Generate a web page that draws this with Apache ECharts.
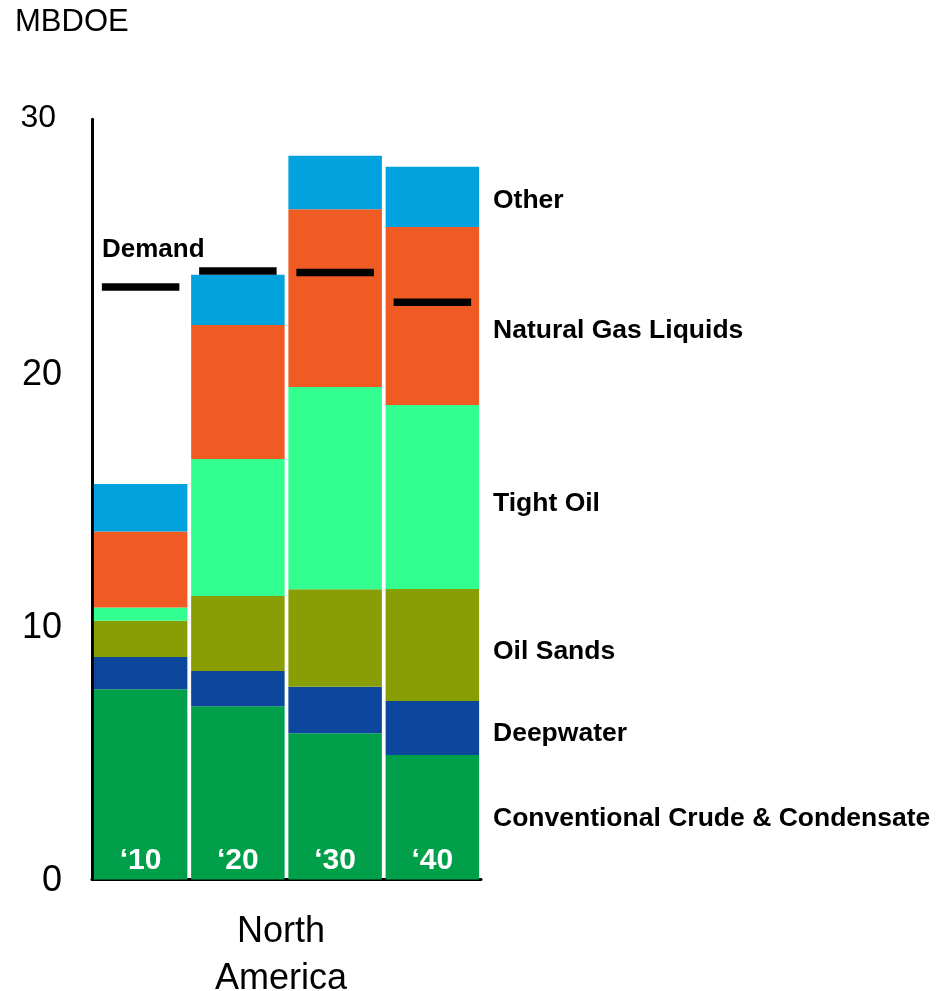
<!DOCTYPE html>
<html>
<head>
<meta charset="utf-8">
<script src="https://cdn.jsdelivr.net/npm/echarts@6/dist/echarts.min.js"></script>
<style>
  html, body { margin: 0; padding: 0; background: #ffffff; }
  #chart { width: 936px; height: 991px; }
</style>
</head>
<body>
<div id="chart"></div>
<script>
// ---- data ----
var categories = ['\u201810', '\u201820', '\u201830', '\u201840'];
var conventional = [7.51, 6.84, 5.77, 4.91];
var deepwater = [1.27, 1.39, 1.84, 2.13];
var oilSands = [1.43, 2.96, 3.84, 4.42];
var tightOil = [0.52, 5.40, 7.99, 7.27];
var ngl = [3.00, 5.29, 7.01, 7.02];
var other = [1.88, 1.99, 2.11, 2.38];
var demand = [23.38, 24.01, 23.95, 22.78];
var yTicks = [0, 10, 20, 30];

var FONT = '"Liberation Sans", Arial, Helvetica, sans-serif';

var chart = echarts.init(document.getElementById('chart'), null, { renderer: 'canvas' });

function barSeries(name, data, color, extra) {
  var s = {
    name: name,
    type: 'bar',
    stack: 'supply',
    data: data,
    barWidth: 93.5,
    itemStyle: { color: color, opacity: 1 },
    emphasis: { disabled: true },
    animation: false
  };
  if (extra) { for (var k in extra) s[k] = extra[k]; }
  return s;
}

var option = {
  animation: false,
  backgroundColor: '#ffffff',
  grid: { left: 92, top: 119.3, width: 389, bottom: 111.5, containLabel: false },
  xAxis: {
    type: 'category',
    data: categories,
    axisLine: { show: true, lineStyle: { color: '#000000', width: 3 } },
    axisTick: { show: false },
    axisLabel: { show: false },
    splitLine: { show: false }
  },
  yAxis: {
    type: 'value',
    min: 0,
    max: 30,
    interval: 10,
    axisLine: { show: true, lineStyle: { color: '#000000', width: 3 } },
    axisTick: { show: false },
    splitLine: { show: false },
    axisLabel: {
      margin: 30,
      align: 'right',
      formatter: function (v) {
        return v === yTicks[3] ? '{s|' + v + '}' : '{b|' + v + '}';
      },
      rich: {
        b: { fontFamily: FONT, fontSize: 36, color: '#000000', padding: [4, 0, 0, 0] },
        s: { fontFamily: FONT, fontSize: 32, color: '#000000', padding: [0, 6, 2, 0] }
      }
    }
  },
  series: [
    barSeries('Conventional Crude & Condensate', conventional, '#00A04B', {
      label: {
        show: true,
        position: 'insideBottom',
        distance: 4,
        formatter: '{b}',
        color: '#ffffff',
        fontFamily: FONT,
        fontWeight: 'bold',
        fontSize: 30
      }
    }),
    barSeries('Deepwater', deepwater, '#0D479D'),
    barSeries('Oil Sands', oilSands, '#889E04'),
    barSeries('Tight Oil', tightOil, '#33FF90'),
    barSeries('Natural Gas Liquids', ngl, '#F05A23'),
    barSeries('Other', other, '#02A2DF'),
    {
      name: 'Demand',
      type: 'scatter',
      data: demand,
      symbol: 'rect',
      symbolSize: [77.5, 7.5],
      itemStyle: { color: '#000000', opacity: 1 },
      z: 10,
      emphasis: { disabled: true },
      animation: false
    }
  ],
  graphic: [
    { type: 'text', left: 15, top: 7, style: { text: 'MBDOE', font: '31px ' + FONT, fill: '#000' } },
    { type: 'text', x: 102, y: 250, style: { text: 'Demand', font: 'bold 26px ' + FONT, fill: '#000', verticalAlign: 'middle' } },
    { type: 'text', x: 493, y: 201, style: { text: 'Other', font: 'bold 26.5px ' + FONT, fill: '#000', verticalAlign: 'middle' } },
    { type: 'text', x: 493, y: 331, style: { text: 'Natural Gas Liquids', font: 'bold 26.5px ' + FONT, fill: '#000', verticalAlign: 'middle' } },
    { type: 'text', x: 493, y: 504, style: { text: 'Tight Oil', font: 'bold 26.5px ' + FONT, fill: '#000', verticalAlign: 'middle' } },
    { type: 'text', x: 493, y: 652, style: { text: 'Oil Sands', font: 'bold 26.5px ' + FONT, fill: '#000', verticalAlign: 'middle' } },
    { type: 'text', x: 493, y: 734, style: { text: 'Deepwater', font: 'bold 26.5px ' + FONT, fill: '#000', verticalAlign: 'middle' } },
    { type: 'text', x: 493, y: 819, style: { text: 'Conventional Crude & Condensate', font: 'bold 26.5px ' + FONT, fill: '#000', verticalAlign: 'middle' } },
    { type: 'text', x: 281, y: 932, style: { text: 'North', font: '36px ' + FONT, fill: '#000', align: 'center', verticalAlign: 'middle' } },
    { type: 'text', x: 281, y: 979, style: { text: 'America', font: '36px ' + FONT, fill: '#000', align: 'center', verticalAlign: 'middle' } }
  ]
};

chart.setOption(option);
</script>
</body>
</html>
